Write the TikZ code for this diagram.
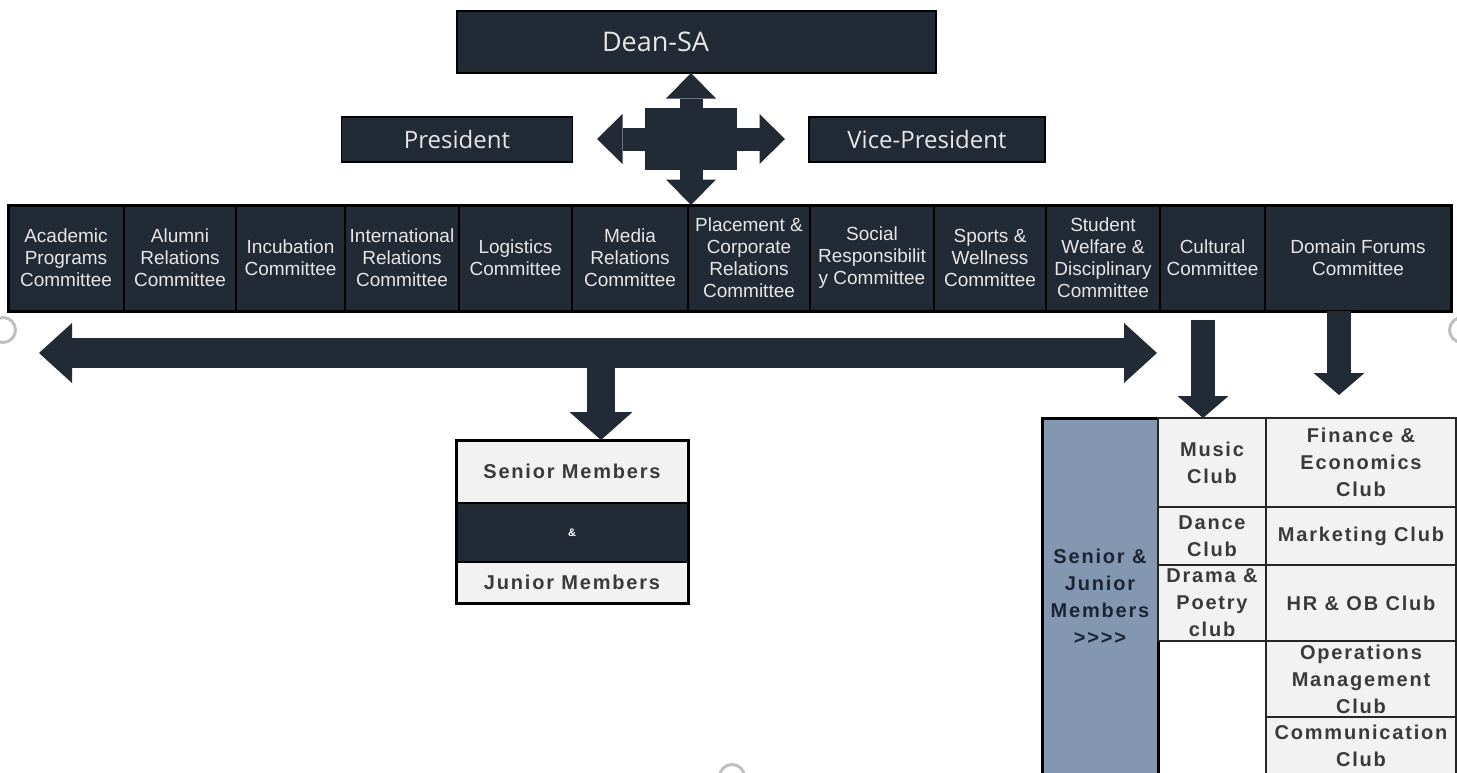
\documentclass[tikz,border=0pt]{standalone}
\usepackage{fontspec}
\setmainfont{Liberation Sans}
\newfontfamily\headfont{Open Sans}
\newfontfamily\clubfont{Liberation Sans}[LetterSpace=9]
\usepackage{tikz}
\usetikzlibrary{positioning}
\usetikzlibrary{arrows.meta}
\definecolor{navy}{HTML}{222A35}
\definecolor{slate}{HTML}{8497B0}
\definecolor{cellgray}{HTML}{F2F2F2}
\definecolor{inkgray}{HTML}{3A3A3A}
\definecolor{slateink}{HTML}{1C2533}
\definecolor{paleink}{HTML}{E7E6E6}

\begin{document}
\begin{tikzpicture}
		[
			x = 0.5pt, y = -0.5pt,
			every node/.style = {outer sep = 0pt, inner sep = 0pt},
			headbox/.style = {rectangle, fill = navy, draw = black, line width = 0.6pt, text = paleink, font = \headfont\fontsize{12}{14}\selectfont},
			committee/.style = {rectangle, fill = navy, draw = black, line width = 1pt, minimum height = 53pt, text = paleink, align = center, font = \fontsize{9.5}{11}\selectfont},
			hub/.style = {rectangle, fill = navy, minimum width = 46pt, minimum height = 31pt},
			hubarrow/.style = {draw = navy, line width = 11.5pt, -{Triangle[length = 12.75pt, width = 25pt, line width = 0pt]}},
			spanarrow/.style = {draw = navy, line width = 15pt, {Triangle[length = 16.5pt, width = 30pt, line width = 0pt]}-{Triangle[length = 16.5pt, width = 30pt, line width = 0pt]}},
			droparrow/.style = {draw = navy, line width = 14pt, -{Triangle[length = 14pt, width = 31.5pt, line width = 0pt]}},
			clubarrow/.style = {draw = navy, line width = 12pt, -{Triangle[length = 11pt, width = 25.5pt, line width = 0pt]}},
			memrow/.style = {rectangle, fill = cellgray, draw = black, line width = 1pt, minimum width = 116pt, text = inkgray, font = \clubfont\bfseries\fontsize{10}{13.5}\selectfont},
			clubcell/.style = {rectangle, fill = cellgray, draw = black!85, line width = 0.9pt, align = center, text = inkgray, font = \clubfont\bfseries\fontsize{10}{13.5}\selectfont},
			slatecol/.style = {rectangle, fill = slate, draw = black, line width = 1.5pt, align = center, text = slateink, font = \clubfont\bfseries\fontsize{10}{13.5}\selectfont},
			handle/.style = {circle, draw = black!25, line width = 1.5pt, minimum size = 12.5pt},
		]
			\useasboundingbox (0,0) rectangle (1457,772);
			\clip (0,0) rectangle (1457,772);
			%
			\node (dean) [headbox, minimum width = 239.5pt, minimum height = 31pt, label = {[text = paleink, font = \headfont\fontsize{13.5}{15}\selectfont, xshift = -20.5pt]center:Dean-SA}] at (696.5,42) {};
			\node (president) [headbox, minimum width = 115.5pt, minimum height = 22.5pt] at (457,139.5) {President};
			\node (vice) [headbox, minimum width = 118pt, minimum height = 22.5pt] at (927,139.5) {Vice-President};
			\node (hub) [hub] at (691,139) {};
			%
			\node (c1) [committee, minimum width = 58pt, anchor = north west] at (8,205) {Academic\\Programs\\Committee};
			\node (c2) [committee, minimum width = 56pt, right = 0pt of c1] {Alumni\\Relations\\Committee};
			\node (c3) [committee, minimum width = 54.5pt, right = 0pt of c2] {Incubation\\Committee};
			\node (c4) [committee, minimum width = 57pt, right = 0pt of c3] {International\\Relations\\Committee};
			\node (c5) [committee, minimum width = 56.5pt, right = 0pt of c4] {Logistics\\Committee};
			\node (c6) [committee, minimum width = 58pt, right = 0pt of c5] {Media\\Relations\\Committee};
			\node (c7) [committee, minimum width = 61pt, right = 0pt of c6] {Placement \&\\Corporate\\Relations\\Committee};
			\node (c8) [committee, minimum width = 62pt, right = 0pt of c7] {Social\\Responsibilit\\y Committee};
			\node (c9) [committee, minimum width = 56pt, right = 0pt of c8] {Sports \&\\Wellness\\Committee};
			\node (c10) [committee, minimum width = 57pt, right = 0pt of c9] {Student\\Welfare \&\\Disciplinary\\Committee};
			\node (c11) [committee, minimum width = 52.5pt, right = 0pt of c10] {Cultural\\Committee};
			\node (c12) [committee, minimum width = 93pt, right = 0pt of c11] {Domain Forums\\Committee};
			\draw [line width = 1.5pt] (c1.north west) rectangle (c12.south east);
			%
			\coordinate (hubW) at (597,139);
			\coordinate (hubE) at (785,139);
			\draw [hubarrow] (hub.north) -- (hub.north |- dean.south);
			\draw [hubarrow] (hub.south) -- (hub.south |- c7.north);
			\draw [hubarrow] (hub.west) -- (hubW);
			\draw [hubarrow] (hub.east) -- (hubE);
			%
			\node (senior) [memrow, minimum height = 31.5pt, anchor = north west] at (456,440) {Senior Members};
			\node (amp) [memrow, fill = navy, text = white, font = \clubfont\bfseries\fontsize{5.5}{6}\selectfont, minimum height = 29.5pt, below = 0pt of senior] {\&};
			\node (junior) [memrow, minimum height = 20.5pt, below = 0pt of amp] {Junior Members};
			\draw [line width = 1.5pt] (senior.north west) rectangle (junior.south east);
			%
			\node (sjm) [slatecol, minimum width = 58pt, minimum height = 178.5pt, anchor = north west] at (1042,418) {Senior \&\\Junior\\Members\\>>>>};
			\node (music) [clubcell, minimum width = 54pt, minimum height = 44.5pt, anchor = north west] at (sjm.north east) {Music\\Club};
			\node (dance) [clubcell, minimum width = 54pt, minimum height = 29pt, below = 0pt of music] {Dance\\Club};
			\node (drama) [clubcell, minimum width = 54pt, minimum height = 38pt, below = 0pt of dance] {Drama \&\\Poetry\\club};
			\node (finance) [clubcell, minimum width = 95pt, minimum height = 44.5pt, anchor = north west] at (music.north east) {Finance \&\\Economics\\Club};
			\node (marketing) [clubcell, minimum width = 95pt, minimum height = 29pt, below = 0pt of finance] {Marketing Club};
			\node (hrob) [clubcell, minimum width = 95pt, minimum height = 38pt, below = 0pt of marketing] {HR \& OB Club};
			\node (ops) [clubcell, minimum width = 95pt, minimum height = 38pt, below = 0pt of hrob] {Operations\\Management\\Club};
			\node (comm) [clubcell, minimum width = 95pt, minimum height = 29pt, below = 0pt of ops] {Communication\\Club};
			%
			\coordinate (spanL) at (39,353);
			\coordinate (spanR) at (1157,353);
			\coordinate (spanM) at (601,353);
			\draw [spanarrow] (spanL) -- (spanR);
			\draw [droparrow] (spanM) -- (spanM |- senior.north);
			\coordinate (cultTop) at (1203,320);
			\draw [clubarrow] (cultTop) -- (cultTop |- music.north);
			\coordinate (forumTop) at (1339,311);
			\coordinate (forumTip) at (1339,395);
			\draw [clubarrow] (forumTop) -- (forumTip);
			%
			\node (handleL) [handle] at (3,330) {};
			\node (handleR) [handle] at (1462,330) {};
			\node (handleB) [handle] at (732,777) {};
			%
		\end{tikzpicture}
\end{document}
